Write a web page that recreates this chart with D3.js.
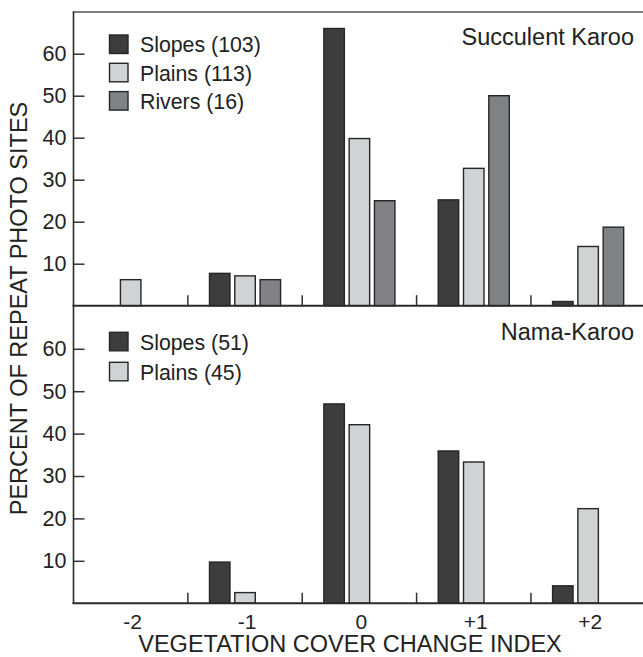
<!DOCTYPE html>
<html>
<head>
<meta charset="utf-8">
<script src="https://cdn.jsdelivr.net/npm/d3@7"></script>
<style>
  html, body { margin: 0; padding: 0; background: #fff; }
  svg { display: block; }
  text { font-family: "Liberation Sans", Arial, Helvetica, sans-serif; fill: #222; }
</style>
</head>
<body>
<svg id="chart" width="643" height="657"></svg>
<script>
// ---- data ----
const categories = ["-2", "-1", "0", "+1", "+2"];
const seriesNames = ["Slopes", "Plains", "Rivers"];
const yTicks = [10, 20, 30, 40, 50, 60];

// Succulent Karoo
const skSlopes = [0, 7.7, 66, 25.2, 1.0];
const skPlains = [6.2, 7.1, 39.8, 32.7, 14.1];
const skRivers = [0, 6.2, 25.0, 50.0, 18.7];
const skLegend = ["Slopes (103)", "Plains (113)", "Rivers (16)"];

// Nama-Karoo
const nkSlopes = [0, 9.7, 47.0, 35.9, 4.1];
const nkPlains = [0, 2.5, 42.1, 33.3, 22.3];
const nkLegend = ["Slopes (51)", "Plains (45)"];

const colors = { Slopes: "#3d3d3d", Plains: "#d1d2d4", Rivers: "#818285" };

// ---- layout ----
const svg = d3.select("#chart");
const xLeft = 73.5, xRight = 645.3;

const x = d3.scaleBand().domain(categories).range([xLeft, xRight]).padding(0);
const groupW = 75.9;
const xs = d3.scaleBand().domain(seriesNames).range([0, groupW]).paddingInner(0.19).paddingOuter(0.095);

const panels = [
  { name: "Succulent Karoo", series: { Slopes: skSlopes, Plains: skPlains, Rivers: skRivers },
    legend: skLegend, legendSeries: ["Slopes", "Plains", "Rivers"],
    y: d3.scaleLinear().domain([0, 70]).range([305.7, 11.7]),
    legendY0: 35, legendStep: 28.3, titleY: 45 },
  { name: "Nama-Karoo", series: { Slopes: nkSlopes, Plains: nkPlains },
    legend: nkLegend, legendSeries: ["Slopes", "Plains"],
    y: d3.scaleLinear().domain([0, 70]).range([603.2, 306.4]),
    legendY0: 332.3, legendStep: 30, titleY: 340 }
];

panels.forEach((p, pi) => {
  const g = svg.append("g");
  const y = p.y;

  // bars
  Object.keys(p.series).forEach(s => {
    const vals = p.series[s];
    g.append("g").selectAll("rect")
      .data(categories.map((c, i) => ({ c, v: vals[i] })).filter(d => d.v > 0))
      .join("rect")
      .attr("x", d => x(d.c) + x.bandwidth() / 2 - groupW / 2 + xs(s))
      .attr("width", xs.bandwidth())
      .attr("y", d => y(d.v))
      .attr("height", d => y(0) - y(d.v))
      .attr("fill", colors[s])
      .attr("stroke", "#262626")
      .attr("stroke-width", 1.4);
  });

  // y axis (inward ticks)
  const yAxis = d3.axisLeft(y).tickValues(yTicks).tickSize(-11).tickPadding(7);
  const ya = g.append("g").attr("transform", `translate(${xLeft},0)`).call(yAxis);
  ya.select(".domain").remove();
  ya.selectAll(".tick line").attr("stroke", "#333").attr("stroke-width", 1.5);
  ya.selectAll(".tick text").attr("font-size", 21.5).attr("fill", "#222")
    .style("font-family", "'Liberation Sans', Arial, sans-serif");

  // category separator ticks (inward, upward)
  g.append("g").selectAll("line")
    .data(categories.slice(1))
    .join("line")
    .attr("x1", d => x(d)).attr("x2", d => x(d))
    .attr("y1", y(0)).attr("y2", y(0) - 10.5)
    .attr("stroke", "#333").attr("stroke-width", 1.5);

  // baseline
  g.append("line")
    .attr("x1", xLeft - 1).attr("x2", 643)
    .attr("y1", y(0)).attr("y2", y(0))
    .attr("stroke", "#2a2a2a").attr("stroke-width", 2);

  // legend
  const lg = g.append("g");
  p.legendSeries.forEach((s, i) => {
    const yy = p.legendY0 + i * p.legendStep;
    lg.append("rect").attr("x", 109.5).attr("y", yy).attr("width", 18.5).attr("height", 18.5)
      .attr("fill", colors[s]).attr("stroke", "#262626").attr("stroke-width", 1.4);
    lg.append("text").attr("x", 140).attr("y", yy + 17.3).attr("font-size", 21.3).text(p.legend[i]);
  });

  // panel title
  g.append("text").attr("x", 634).attr("y", p.titleY).attr("text-anchor", "end")
    .attr("font-size", 23.5).text(p.name);
});

// frame: top border and left axis line
svg.append("line").attr("x1", xLeft).attr("x2", 643).attr("y1", 12).attr("y2", 12)
  .attr("stroke", "#555").attr("stroke-width", 1.6);
svg.append("line").attr("x1", xLeft).attr("x2", xLeft).attr("y1", 11.2).attr("y2", 604)
  .attr("stroke", "#2a2a2a").attr("stroke-width", 1.6);

// x axis labels (bottom)
const xa = svg.append("g").attr("transform", `translate(2,603.2)`)
  .call(d3.axisBottom(x).tickSize(0).tickPadding(10.5));
xa.select(".domain").remove();
xa.selectAll(".tick text").attr("font-size", 21).attr("fill", "#222")
  .style("font-family", "'Liberation Sans', Arial, sans-serif");

// axis titles
svg.append("text").attr("x", 350).attr("y", 651.5).attr("text-anchor", "middle")
  .attr("font-size", 23.5).text("VEGETATION COVER CHANGE INDEX");
svg.append("text").attr("transform", "translate(26.5,308.5) rotate(-90)")
  .attr("text-anchor", "middle").attr("font-size", 23.5).text("PERCENT OF REPEAT PHOTO SITES");
</script>
</body>
</html>
